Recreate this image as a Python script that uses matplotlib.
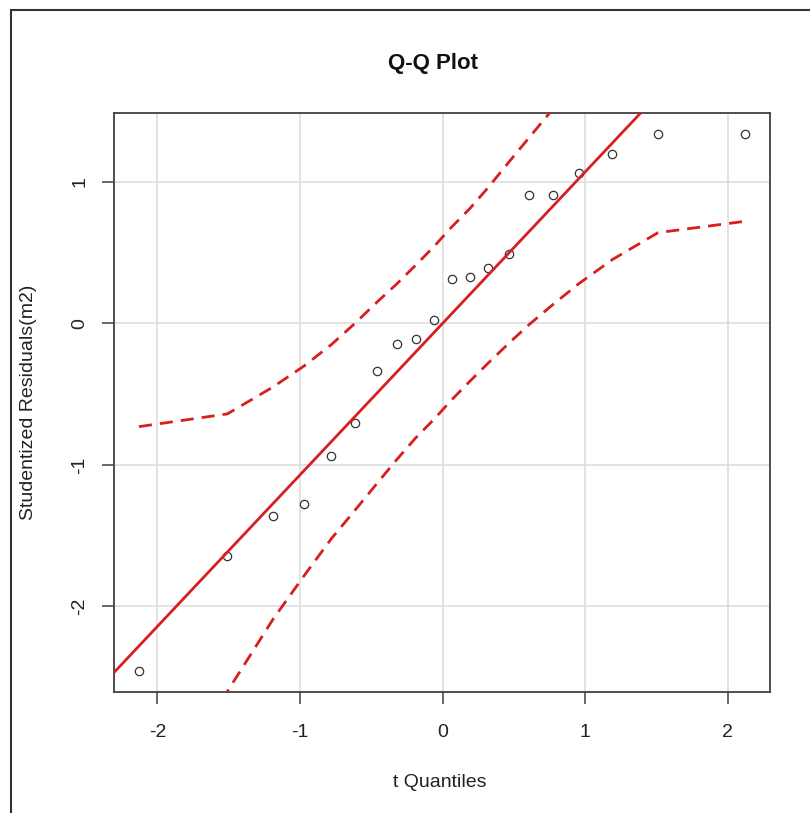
import matplotlib
matplotlib.use("Agg")
import matplotlib.pyplot as plt
from matplotlib.patches import Rectangle

plt.rcParams['font.family'] = ['Liberation Sans', 'DejaVu Sans']

# t quantiles (x) and ordered studentized residuals (y)
t_quant = [-2.13, -1.51, -1.19, -0.97, -0.78, -0.615, -0.46, -0.32, -0.19, -0.063,
           0.063, 0.19, 0.32, 0.465, 0.605, 0.77, 0.955, 1.19, 1.51, 2.12]
resid = [-2.456, -1.643, -1.359, -1.276, -0.937, -0.702, -0.337, -0.148, -0.114, 0.021,
         0.311, 0.329, 0.393, 0.491, 0.904, 0.904, 1.061, 1.195, 1.335, 1.335]

# confidence envelope at each quantile
upper = [-0.73, -0.64, -0.45, -0.30, -0.15, 0.00, 0.15, 0.28, 0.41, 0.54,
         0.68, 0.81, 0.96, 1.14, 1.31, 1.51, 1.76, 2.09, 2.60, 3.82]
lower = [-3.83, -2.60, -2.09, -1.78, -1.52, -1.32, -1.13, -0.96, -0.81, -0.68,
         -0.54, -0.41, -0.28, -0.14, -0.01, 0.13, 0.28, 0.45, 0.64, 0.72]

# reference line
line_x = [-2.4, 2.4]
line_y = [-2.568, 2.568]

xticks = [-2, -1, 0, 1, 2]
yticks = [-2, -1, 0, 1]

red = '#d81e1e'

fig = plt.figure(figsize=(8.1, 8.13), dpi=100)
ax = fig.add_axes([114 / 810, 1 - 692.3 / 813, 656 / 810, 579.6 / 813])

ax.set_xlim(-2.305, 2.295)
ax.set_ylim(-2.606, 1.487)
ax.set_xticks(xticks)
ax.set_yticks(yticks)
ax.set_xticklabels([str(v) for v in xticks])
ax.set_yticklabels([str(v) for v in yticks])
ax.grid(True, color='#dedede', lw=1.2)
ax.set_axisbelow(True)

ax.plot(t_quant, resid, 'o', mfc='none', mec='#333333', ms=6, mew=0.9, zorder=3)
ax.plot(line_x, line_y, color=red, lw=2, zorder=4)
ax.plot(t_quant, upper, color=red, lw=2, ls=(0, (4.7, 2.9)), zorder=4)
ax.plot(t_quant, lower, color=red, lw=2, ls=(0, (4.7, 2.9)), zorder=4)

for s in ax.spines.values():
    s.set_color('#404040')
    s.set_linewidth(1.3)
ax.tick_params(axis='both', direction='out', length=8.5, width=1.1, color='#404040',
               labelsize=14, labelcolor='#222222')
ax.tick_params(axis='x', pad=14)
ax.tick_params(axis='y', pad=10, labelrotation=90)
for lab in ax.get_yticklabels():
    lab.set_va('center')

fig.text(433 / 810, 1 - 63 / 813, 'Q-Q Plot', ha='center', va='center',
         fontsize=16, fontweight='bold', color='#111111')
fig.text(440 / 810, 1 - 782 / 813, 't Quantiles', ha='center', va='center',
         fontsize=14, color='#222222')
fig.text(29 / 810, 1 - 402.5 / 813, 'Studentized Residuals(m2)', ha='center', va='center',
         rotation=90, fontsize=14, color='#222222')

# outer frame of the screenshot
fig.add_artist(Rectangle((11 / 810, -0.1), 1.2, 1.1 - 10 / 813, transform=fig.transFigure,
                         fill=False, ec='#333333', lw=1.5))

fig.savefig('out.png', dpi=100)
